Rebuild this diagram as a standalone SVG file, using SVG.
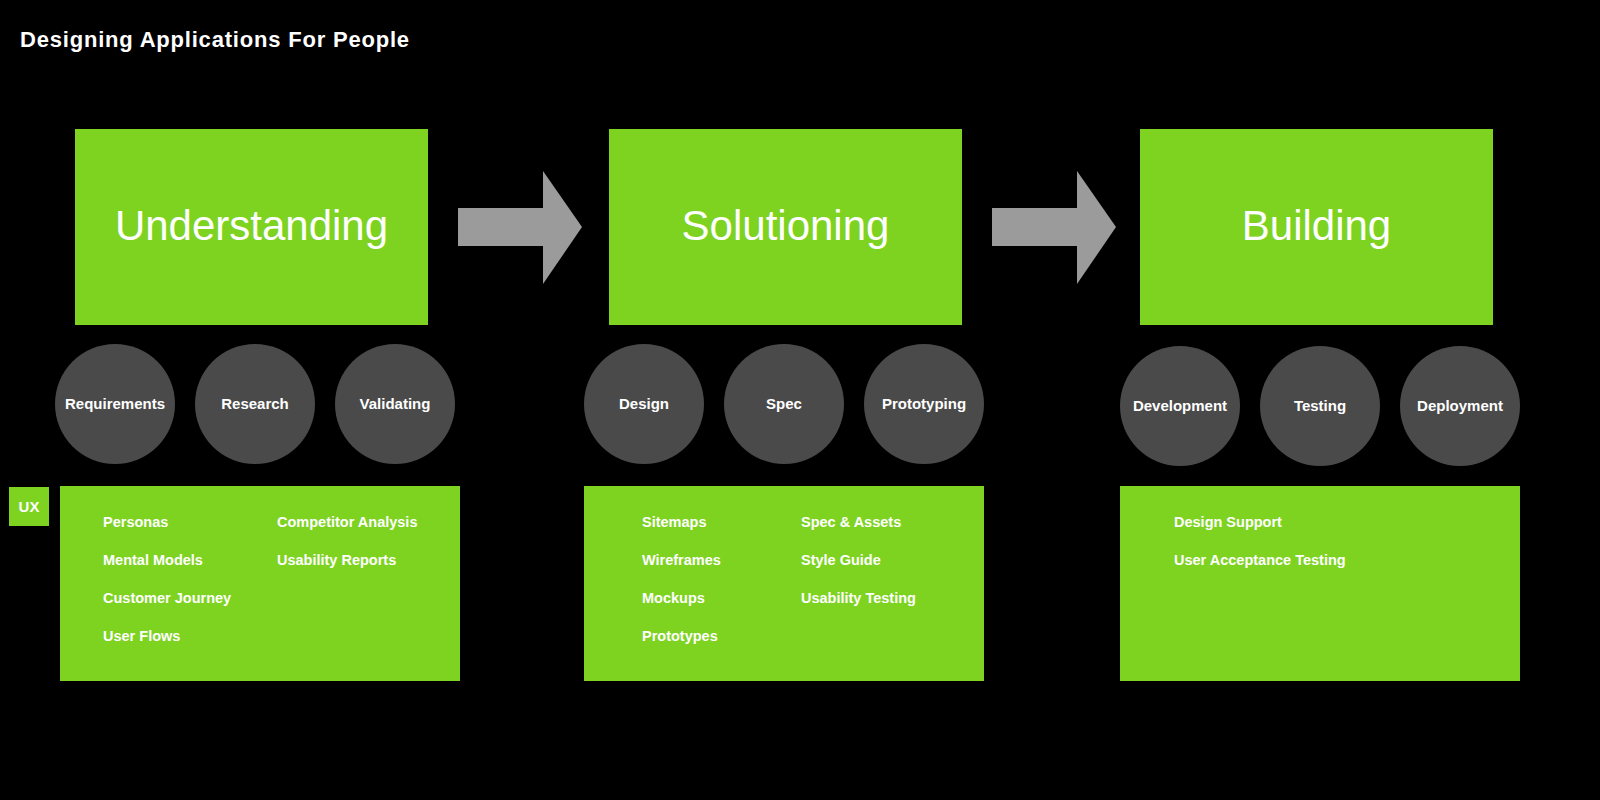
<svg xmlns="http://www.w3.org/2000/svg" width="1600" height="800" viewBox="0 0 1600 800">
<style>
.g{fill:#7ED321}
.c{fill:#4A4A4A}
.a{fill:#9B9B9B}
.big{font-family:"Liberation Sans",Arial,sans-serif;font-size:42px;fill:#fff;text-anchor:middle}
.ct{font-family:"Liberation Sans",Arial,sans-serif;font-size:15px;font-weight:bold;fill:#fff;text-anchor:middle}
.li{font-family:"Liberation Sans",Arial,sans-serif;font-size:14.5px;font-weight:bold;fill:#fff}
</style>
<rect width="1600" height="800" fill="#000"/>
<text x="20" y="47" font-family="Liberation Sans,Arial,sans-serif" font-size="22" font-weight="bold" letter-spacing="0.8" fill="#fff">Designing Applications For People</text>
<g id="connectors">
<polygon class="a" points="458,208 543,208 543,171 582,227 543,284 543,246 458,246"/>
<polygon class="a" points="992,208 1077,208 1077,171 1116,227 1077,284 1077,246 992,246"/>
</g>
<g id="understanding"><rect class="g" x="75" y="129" width="353" height="196"/><text class="big" x="251.5" y="240">Understanding</text></g>
<g id="solutioning"><rect class="g" x="609" y="129" width="353" height="196"/><text class="big" x="785.5" y="240">Solutioning</text></g>
<g id="building"><rect class="g" x="1140" y="129" width="353" height="196"/><text class="big" x="1316.5" y="240">Building</text></g>
<g id="requirements"><circle class="c" cx="115" cy="404" r="60"/><text class="ct" x="115" y="409">Requirements</text></g>
<g id="research"><circle class="c" cx="255" cy="404" r="60"/><text class="ct" x="255" y="409">Research</text></g>
<g id="validating"><circle class="c" cx="395" cy="404" r="60"/><text class="ct" x="395" y="409">Validating</text></g>
<g id="design"><circle class="c" cx="644" cy="404" r="60"/><text class="ct" x="644" y="409">Design</text></g>
<g id="spec"><circle class="c" cx="784" cy="404" r="60"/><text class="ct" x="784" y="409">Spec</text></g>
<g id="prototyping"><circle class="c" cx="924" cy="404" r="60"/><text class="ct" x="924" y="409">Prototyping</text></g>
<g id="development"><circle class="c" cx="1180" cy="406" r="60"/><text class="ct" x="1180" y="411">Development</text></g>
<g id="testing"><circle class="c" cx="1320" cy="406" r="60"/><text class="ct" x="1320" y="411">Testing</text></g>
<g id="deployment"><circle class="c" cx="1460" cy="406" r="60"/><text class="ct" x="1460" y="411">Deployment</text></g>
<g id="ux"><rect class="g" x="9" y="487" width="40" height="39"/><text class="ct" x="29" y="512">UX</text></g>
<g id="list1"><rect class="g" x="60" y="486" width="400" height="195"/>
<text class="li" x="103" y="527">Personas</text><text class="li" x="103" y="565">Mental Models</text><text class="li" x="103" y="603">Customer Journey</text><text class="li" x="103" y="641">User Flows</text>
<text class="li" x="277" y="527">Competitor Analysis</text><text class="li" x="277" y="565">Usability Reports</text></g>
<g id="list2"><rect class="g" x="584" y="486" width="400" height="195"/>
<text class="li" x="642" y="527">Sitemaps</text><text class="li" x="642" y="565">Wireframes</text><text class="li" x="642" y="603">Mockups</text><text class="li" x="642" y="641">Prototypes</text>
<text class="li" x="801" y="527">Spec &amp; Assets</text><text class="li" x="801" y="565">Style Guide</text><text class="li" x="801" y="603">Usability Testing</text></g>
<g id="list3"><rect class="g" x="1120" y="486" width="400" height="195"/>
<text class="li" x="1174" y="527">Design Support</text><text class="li" x="1174" y="565">User Acceptance Testing</text></g>
</svg>
